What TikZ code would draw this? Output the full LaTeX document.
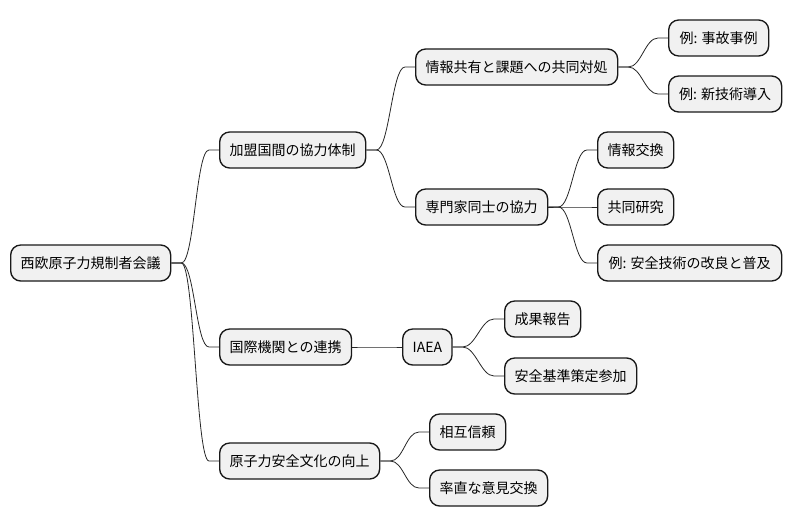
\documentclass[tikz,border=0pt]{standalone}
\usepackage{fontspec}
\setmainfont{Noto Sans CJK JP}
\usetikzlibrary{calc}
\tikzset{
  box/.style={draw=black!90, fill=black!5.5, line width=1.35pt, rounded corners=10pt,
    minimum height=36pt, inner xsep=10pt, inner ysep=0pt, anchor=west,
    font=\fontsize{14pt}{16pt}\selectfont, text=black},
  link/.style={draw=black!85, line width=0.8pt,
    to path={-- ++(10pt,0) .. controls +(13pt,0) and +(-13pt,0) .. ($(\tikztotarget)+(-10pt,0)$) -- (\tikztotarget)}}
}
\begin{document}
\begin{tikzpicture}[x=1pt,y=-1pt]
\useasboundingbox (0,0) rectangle (792,527);
\node[box] (root) at (10,263) {西欧原子力規制者会議};
\node[box] (a1) at (219,150) {加盟国間の協力体制};
\node[box] (b1) at (415,67) {情報共有と課題への共同対処};
\node[box, minimum width=100pt] (c1) at (668,38) {例: 事故事例};
\node[box, minimum width=113pt] (c2) at (668,94) {例: 新技術導入};
\node[box] (b2) at (415,207) {専門家同士の協力};
\node[box] (c3) at (597,150) {情報交換};
\node[box] (c4) at (597,207) {共同研究};
\node[box, minimum width=184pt] (c5) at (597,263) {例: 安全技術の改良と普及};
\node[box] (a2) at (219,347) {国際機関との連携};
\node[box] (b3) at (402,347) {IAEA};
\node[box] (c6) at (504,319) {成果報告};
\node[box] (c7) at (504,376) {安全基準策定参加};
\node[box] (a3) at (219,461) {原子力安全文化の向上};
\node[box] (b4) at (429,432) {相互信頼};
\node[box] (b5) at (429,488) {率直な意見交換};

\path[link] (root.east) to (a1.west);
\path[link] (root.east) to (a2.west);
\path[link] (root.east) to (a3.west);
\path[link] (a1.east) to (b1.west);
\path[link] (a1.east) to (b2.west);
\path[link] (b1.east) to (c1.west);
\path[link] (b1.east) to (c2.west);
\path[link] (b2.east) to (c3.west);
\path[link] (b2.east) to (c4.west);
\path[link] (b2.east) to (c5.west);
\path[link] (a2.east) to (b3.west);
\path[link] (b3.east) to (c6.west);
\path[link] (b3.east) to (c7.west);
\path[link] (a3.east) to (b4.west);
\path[link] (a3.east) to (b5.west);
\end{tikzpicture}
\end{document}
